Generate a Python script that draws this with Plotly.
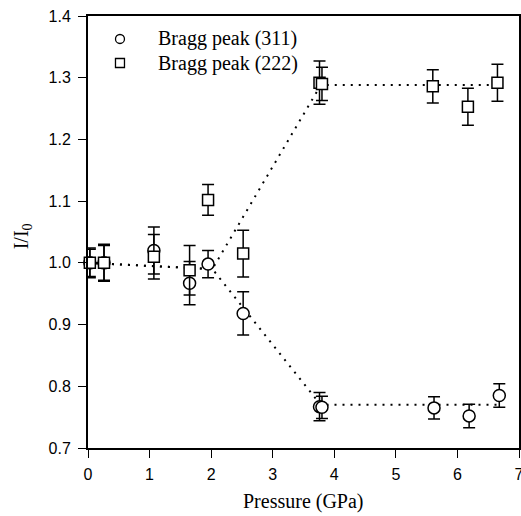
import plotly.graph_objects as go

# Bragg peak (311) - circles
p311 = [0.03, 0.26, 1.07, 1.65, 1.95, 2.52, 3.76, 3.80, 5.62, 6.19, 6.68]
i311 = [1.000, 1.000, 1.020, 0.967, 0.998, 0.918, 0.767, 0.766, 0.765, 0.752, 0.785]
e311 = [0.022, 0.028, 0.038, 0.035, 0.022, 0.035, 0.023, 0.018, 0.018, 0.019, 0.019]

# Bragg peak (222) - squares
p222 = [0.03, 0.26, 1.07, 1.65, 1.95, 2.52, 3.76, 3.80, 5.60, 6.17, 6.65]
i222 = [1.000, 1.000, 1.010, 0.988, 1.102, 1.015, 1.292, 1.290, 1.286, 1.253, 1.292]
e222 = [0.024, 0.030, 0.036, 0.040, 0.025, 0.038, 0.035, 0.027, 0.027, 0.030, 0.030]

# dotted guide lines
g_x = [0.0, 2.02, 3.78, 6.7]
g311 = [1.0, 0.99, 0.770, 0.770]
g222 = [1.0, 0.99, 1.288, 1.288]

x_ticks = [0, 1, 2, 3, 4, 5, 6, 7]
y_ticks = [0.7, 0.8, 0.9, 1.0, 1.1, 1.2, 1.3, 1.4]
legend_names = ["Bragg peak (311)", "Bragg peak (222)"]

SERIF = "Liberation Serif, Times New Roman, serif"
SANS = "Liberation Sans, Arial, sans-serif"

fig = go.Figure()
dot = dict(color="black", width=2, dash="2px,6px")
fig.add_trace(go.Scatter(x=g_x, y=g311, mode="lines", line=dot, showlegend=False, hoverinfo="skip"))
fig.add_trace(go.Scatter(x=g_x, y=g222, mode="lines", line=dot, showlegend=False, hoverinfo="skip"))

fig.add_trace(go.Scatter(
    x=p311, y=i311, mode="markers", name=legend_names[0], showlegend=False,
    marker=dict(symbol="circle", size=12, color="white", line=dict(color="black", width=1.5)),
    error_y=dict(type="data", array=e311, visible=True, color="black", thickness=1.5, width=6),
    cliponaxis=False,
))
fig.add_trace(go.Scatter(
    x=p222, y=i222, mode="markers", name=legend_names[1], showlegend=False,
    marker=dict(symbol="square", size=11, color="white", line=dict(color="black", width=1.5)),
    error_y=dict(type="data", array=e222, visible=True, color="black", thickness=1.5, width=6),
    cliponaxis=False,
))

# hand-built legend (symbol + text) at top-left of the plot area
leg_sym_x = 0.0742
leg_txt_x = 0.158
leg_y = [0.9468, 0.8912]
shapes = [
    dict(type="circle", xref="paper", yref="paper", xsizemode="pixel", ysizemode="pixel",
         xanchor=leg_sym_x, yanchor=leg_y[0], x0=-4.5, x1=4.5, y0=-4.5, y1=4.5,
         line=dict(color="black", width=1.3), fillcolor="white"),
    dict(type="rect", xref="paper", yref="paper", xsizemode="pixel", ysizemode="pixel",
         xanchor=leg_sym_x, yanchor=leg_y[1], x0=-4.5, x1=4.5, y0=-4.5, y1=4.5,
         line=dict(color="black", width=1.3), fillcolor="white"),
]
annotations = [
    dict(text=legend_names[k], xref="paper", yref="paper", x=leg_txt_x, y=leg_y[k],
         xanchor="left", yanchor="middle", showarrow=False,
         font=dict(family=SERIF, size=20, color="black"))
    for k in range(2)
]
annotations += [
    dict(text="Pressure (GPa)", xref="paper", yref="paper", x=0.5, y=0,
         xanchor="center", yanchor="middle", yshift=-53, showarrow=False,
         font=dict(family=SERIF, size=20, color="black")),
    dict(text="I/I<sub>0</sub>", xref="paper", yref="paper", x=0, y=0.49,
         xanchor="center", yanchor="middle", xshift=-66, textangle=-90, showarrow=False,
         font=dict(family=SERIF, size=20, color="black")),
]

fig.update_layout(
    width=521, height=516,
    margin=dict(l=88, r=2, t=16, b=68, autoexpand=False),
    plot_bgcolor="white", paper_bgcolor="white",
    showlegend=False,
    shapes=shapes,
    annotations=annotations,
)
fig.update_xaxes(
    range=[0, 7], tickvals=x_ticks, ticktext=[str(v) for v in x_ticks],
    showline=True, linecolor="black", linewidth=2, mirror=True,
    ticks="outside", ticklen=8, tickwidth=1, tickcolor="black",
    showgrid=False, zeroline=False, automargin=False,
    ticklabeloverflow="allow", ticklabelstandoff=3,
    tickfont=dict(family=SANS, size=16, color="black"),
)
fig.update_yaxes(
    range=[0.7, 1.4], tickvals=y_ticks, ticktext=[f"{v:.1f}" for v in y_ticks],
    showline=True, linecolor="black", linewidth=2, mirror=True,
    ticks="outside", ticklen=8, tickwidth=1, tickcolor="black",
    showgrid=False, zeroline=False, automargin=False,
    ticklabeloverflow="allow", ticklabelstandoff=4,
    tickfont=dict(family=SANS, size=16, color="black"),
)

fig.write_html(
    "out.html",
    config={"displayModeBar": False},
    post_script="document.body.style.margin='0';document.body.style.overflow='hidden';",
)
